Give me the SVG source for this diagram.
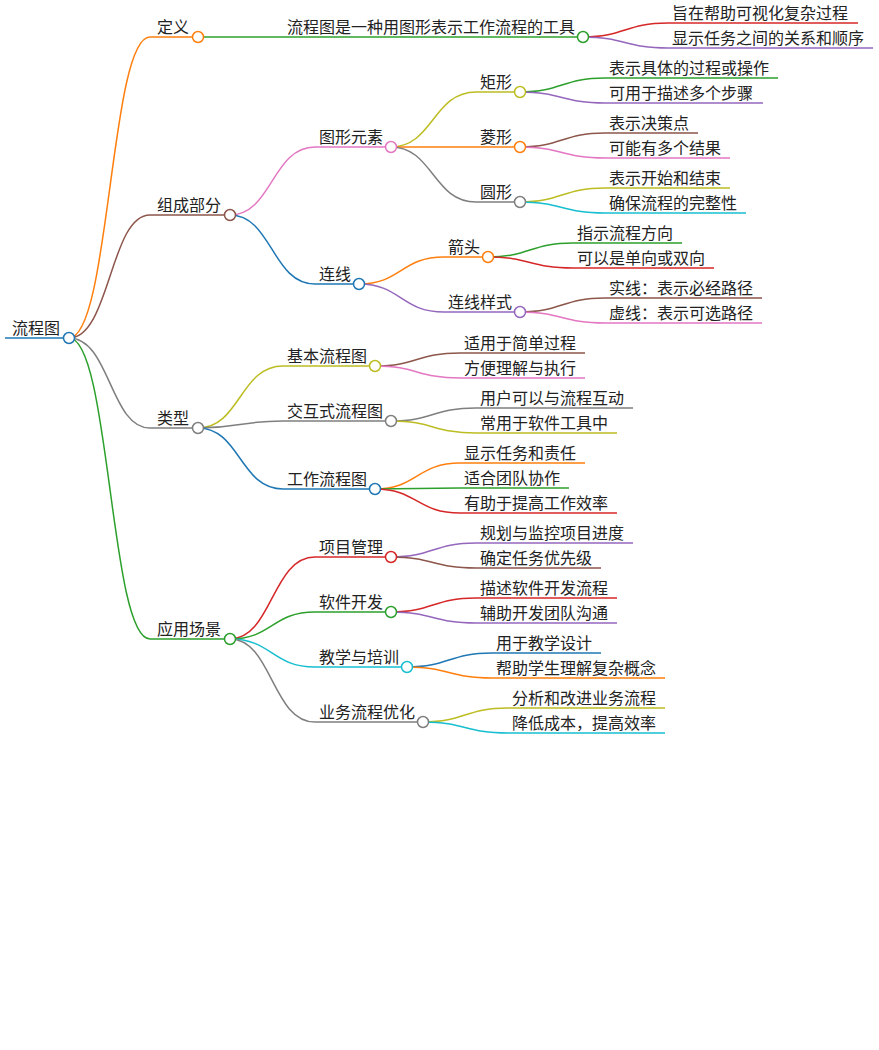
<svg xmlns="http://www.w3.org/2000/svg" width="879" height="1050" viewBox="0 0 879 1050">
<style>
text{font-family:"Noto Sans CJK SC","Liberation Sans",sans-serif;font-size:16px;fill:#222}
.t{transform:translate(0,1px)}
path{fill:none;stroke-width:1.5}
circle{fill:#fff;stroke-width:1.5}
</style>
<rect width="879" height="1050" fill="#fff"/>
<g id="connectors">
<path d="M5 338H68" stroke="#1f77b4" stroke-width="3"/>
<path d="M69 338C110 338 110 37 150 37H198" stroke="#ff7f0e"/>
<path d="M69 338C110 338 110 215 150 215H230" stroke="#8c564b"/>
<path d="M69 338C110 338 110 428 150 428H198" stroke="#7f7f7f"/>
<path d="M69 338C110 338 110 639 150 639H230" stroke="#2ca02c"/>
<path d="M198 37H583" stroke="#2ca02c"/>
<path d="M583 37C625 37 625 23 668 23H858" stroke="#d62728"/>
<path d="M583 37C625 37 625 48 668 48H873" stroke="#9467bd"/>
<path d="M230 215C272 215 272 147 315 147H391" stroke="#e377c2"/>
<path d="M230 215C272 215 272 284 315 284H359" stroke="#1f77b4"/>
<path d="M391 147C433 147 433 92 476 92H520" stroke="#bcbd22"/>
<path d="M391 147H520" stroke="#ff7f0e"/>
<path d="M391 147C433 147 433 202 476 202H520" stroke="#7f7f7f"/>
<path d="M520 92C562 92 562 78 605 78H778" stroke="#2ca02c"/>
<path d="M520 92C562 92 562 103 605 103H763" stroke="#9467bd"/>
<path d="M520 147C562 147 562 133 605 133H698" stroke="#8c564b"/>
<path d="M520 147C562 147 562 158 605 158H730" stroke="#e377c2"/>
<path d="M520 202C562 202 562 188 605 188H730" stroke="#bcbd22"/>
<path d="M520 202C562 202 562 213 605 213H746" stroke="#17becf"/>
<path d="M359 284C401 284 401 257 444 257H488" stroke="#ff7f0e"/>
<path d="M359 284C401 284 401 312 444 312H520" stroke="#9467bd"/>
<path d="M488 257C530 257 530 243 573 243H682" stroke="#2ca02c"/>
<path d="M488 257C530 257 530 268 573 268H714" stroke="#d62728"/>
<path d="M520 312C562 312 562 298 605 298H762" stroke="#8c564b"/>
<path d="M520 312C562 312 562 323 605 323H762" stroke="#e377c2"/>
<path d="M198 428C240 428 240 366 283 366H375" stroke="#bcbd22"/>
<path d="M198 428C240 428 240 421 283 421H391" stroke="#7f7f7f"/>
<path d="M198 428C240 428 240 489 283 489H375" stroke="#1f77b4"/>
<path d="M375 366C417 366 417 353 460 353H585" stroke="#8c564b"/>
<path d="M375 366C417 366 417 378 460 378H585" stroke="#e377c2"/>
<path d="M391 421C433 421 433 408 476 408H633" stroke="#7f7f7f"/>
<path d="M391 421C433 421 433 433 476 433H617" stroke="#bcbd22"/>
<path d="M375 489C417 489 417 463 460 463H585" stroke="#ff7f0e"/>
<path d="M375 489C417 489 417 488 460 488H569" stroke="#2ca02c"/>
<path d="M375 489C417 489 417 513 460 513H617" stroke="#d62728"/>
<path d="M230 639C272 639 272 557 315 557H391" stroke="#d62728"/>
<path d="M230 639C272 639 272 612 315 612H391" stroke="#2ca02c"/>
<path d="M230 639C272 639 272 667 315 667H407" stroke="#17becf"/>
<path d="M230 639C272 639 272 722 315 722H423" stroke="#7f7f7f"/>
<path d="M391 557C433 557 433 543 476 543H633" stroke="#9467bd"/>
<path d="M391 557C433 557 433 568 476 568H601" stroke="#8c564b"/>
<path d="M391 612C433 612 433 598 476 598H617" stroke="#d62728"/>
<path d="M391 612C433 612 433 623 476 623H617" stroke="#9467bd"/>
<path d="M407 667C449 667 449 653 492 653H601" stroke="#1f77b4"/>
<path d="M407 667C449 667 449 678 492 678H665" stroke="#ff7f0e"/>
<path d="M423 722C465 722 465 708 508 708H665" stroke="#bcbd22"/>
<path d="M423 722C465 722 465 733 508 733H665" stroke="#17becf"/>
</g>
<g id="root"><text x="12" y="334">流程图</text><circle cx="69" cy="338" r="5.5" stroke="#1f77b4"/></g>
<g id="n-def"><text x="157" y="33">定义</text><circle cx="198" cy="37" r="5.5" stroke="#ff7f0e"/></g>
<g id="n-def1"><text x="287" y="33">流程图是一种用图形表示工作流程的工具</text><circle cx="583" cy="37" r="5.5" stroke="#2ca02c"/></g>
<g id="l1"><text x="672" y="19">旨在帮助可视化复杂过程</text></g>
<g id="l2"><text x="672" y="44">显示任务之间的关系和顺序</text></g>
<g id="n-comp"><text x="157" y="211">组成部分</text><circle cx="230" cy="215" r="5.5" stroke="#8c564b"/></g>
<g id="n-shape"><text x="319" y="143">图形元素</text><circle cx="391" cy="147" r="5.5" stroke="#e377c2"/></g>
<g id="n-rect"><text x="480" y="88">矩形</text><circle cx="520" cy="92" r="5.5" stroke="#bcbd22"/></g>
<g id="l3"><text x="609" y="74">表示具体的过程或操作</text></g>
<g id="l4"><text x="609" y="99">可用于描述多个步骤</text></g>
<g id="n-dia"><text x="480" y="143">菱形</text><circle cx="520" cy="147" r="5.5" stroke="#ff7f0e"/></g>
<g id="l5"><text x="609" y="129">表示决策点</text></g>
<g id="l6"><text x="609" y="154">可能有多个结果</text></g>
<g id="n-circ"><text x="480" y="198">圆形</text><circle cx="520" cy="202" r="5.5" stroke="#7f7f7f"/></g>
<g id="l7"><text x="609" y="184">表示开始和结束</text></g>
<g id="l8"><text x="609" y="209">确保流程的完整性</text></g>
<g id="n-line"><text x="319" y="280">连线</text><circle cx="359" cy="284" r="5.5" stroke="#1f77b4"/></g>
<g id="n-arrow"><text x="448" y="253">箭头</text><circle cx="488" cy="257" r="5.5" stroke="#ff7f0e"/></g>
<g id="l9"><text x="577" y="239">指示流程方向</text></g>
<g id="l10"><text x="577" y="264">可以是单向或双向</text></g>
<g id="n-ls"><text x="448" y="308">连线样式</text><circle cx="520" cy="312" r="5.5" stroke="#9467bd"/></g>
<g id="l11"><text x="609" y="294">实线：表示必经路径</text></g>
<g id="l12"><text x="609" y="319">虚线：表示可选路径</text></g>
<g id="n-type"><text x="157" y="424">类型</text><circle cx="198" cy="428" r="5.5" stroke="#7f7f7f"/></g>
<g id="n-basic"><text x="287" y="362">基本流程图</text><circle cx="375" cy="366" r="5.5" stroke="#bcbd22"/></g>
<g id="l13"><text x="464" y="349">适用于简单过程</text></g>
<g id="l14"><text x="464" y="374">方便理解与执行</text></g>
<g id="n-inter"><text x="287" y="417">交互式流程图</text><circle cx="391" cy="421" r="5.5" stroke="#7f7f7f"/></g>
<g id="l15"><text x="480" y="404">用户可以与流程互动</text></g>
<g id="l16"><text x="480" y="429">常用于软件工具中</text></g>
<g id="n-work"><text x="287" y="485">工作流程图</text><circle cx="375" cy="489" r="5.5" stroke="#1f77b4"/></g>
<g id="l17"><text x="464" y="459">显示任务和责任</text></g>
<g id="l18"><text x="464" y="484">适合团队协作</text></g>
<g id="l19"><text x="464" y="509">有助于提高工作效率</text></g>
<g id="n-app"><text x="157" y="635">应用场景</text><circle cx="230" cy="639" r="5.5" stroke="#2ca02c"/></g>
<g id="n-pm"><text x="319" y="553">项目管理</text><circle cx="391" cy="557" r="5.5" stroke="#d62728"/></g>
<g id="l20"><text x="480" y="539">规划与监控项目进度</text></g>
<g id="l21"><text x="480" y="564">确定任务优先级</text></g>
<g id="n-sw"><text x="319" y="608">软件开发</text><circle cx="391" cy="612" r="5.5" stroke="#2ca02c"/></g>
<g id="l22"><text x="480" y="594">描述软件开发流程</text></g>
<g id="l23"><text x="480" y="619">辅助开发团队沟通</text></g>
<g id="n-edu"><text x="319" y="663">教学与培训</text><circle cx="407" cy="667" r="5.5" stroke="#17becf"/></g>
<g id="l24"><text x="496" y="649">用于教学设计</text></g>
<g id="l25"><text x="496" y="674">帮助学生理解复杂概念</text></g>
<g id="n-biz"><text x="319" y="718">业务流程优化</text><circle cx="423" cy="722" r="5.5" stroke="#7f7f7f"/></g>
<g id="l26"><text x="512" y="704">分析和改进业务流程</text></g>
<g id="l27"><text x="512" y="729">降低成本，提高效率</text></g>
</svg>
